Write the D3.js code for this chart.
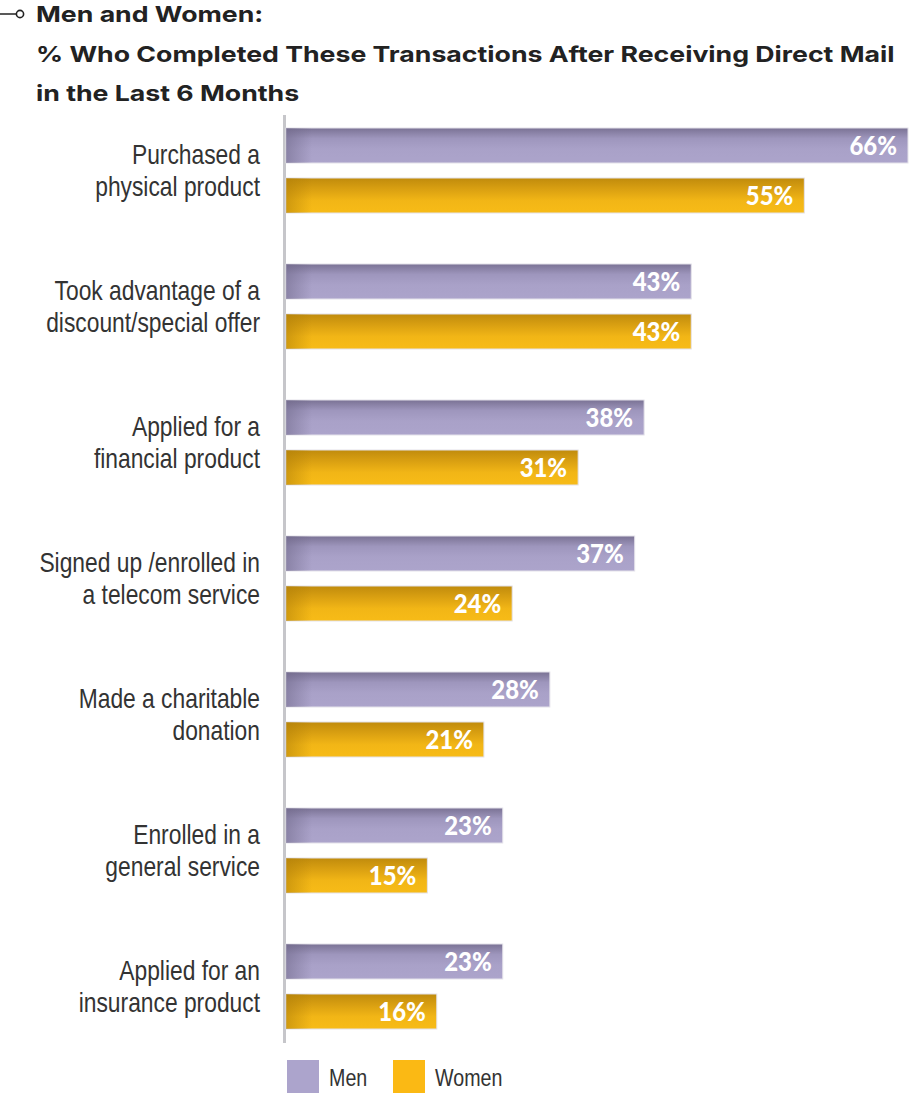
<!DOCTYPE html>
<html>
<head>
<meta charset="utf-8">
<script src="https://cdn.jsdelivr.net/npm/d3@7"></script>
<style>
  html, body { margin: 0; padding: 0; background: #fff; }
  svg { display: block; }
</style>
</head>
<body>
<svg id="chart" width="914" height="1093"></svg>
<script>
// Survey responses: share of men and women who completed each transaction
const categories = [
  ["Purchased a", "physical product"],
  ["Took advantage of a", "discount/special offer"],
  ["Applied for a", "financial product"],
  ["Signed up /enrolled in", "a telecom service"],
  ["Made a charitable", "donation"],
  ["Enrolled in a", "general service"],
  ["Applied for an", "insurance product"]
];
const seriesNames = ["Men", "Women"];
const menValues   = [66, 43, 38, 37, 28, 23, 23];
const womenValues = [55, 43, 31, 24, 21, 15, 16];
const titleLines = [
  "Men and Women:",
  "% Who Completed These Transactions After Receiving Direct Mail",
  "in the Last 6 Months"
];

const svg = d3.select("#chart");
const keys = categories.map(c => c.join(" "));
const rows = keys.map((k, i) => ({ key: k, lines: categories[i], Men: menValues[i], Women: womenValues[i] }));

// Scales
const x = d3.scaleLinear().domain([0, 66]).range([286, 908]);
const y = d3.scaleBand().domain(keys).range([128, 1029]).paddingInner(0.375).paddingOuter(0);
const ySub = d3.scaleBand().domain(seriesNames).range([0, y.bandwidth()]).paddingInner(0.3);

// Gradients: darker top edge and darker left edge on each bar
const defs = svg.append("defs");
const grads = {
  Men:   { stops: [["0%", "#7a7294"], ["30%", "#9e96bd"], ["60%", "#a9a1c8"], ["100%", "#aca4cb"]], edge: "#6f6889" },
  Women: { stops: [["0%", "#c08b0c"], ["35%", "#dca212"], ["65%", "#f2b616"], ["100%", "#f7bb17"]], edge: "#b07f08" }
};
Object.entries(grads).forEach(([name, g]) => {
  const lg = defs.append("linearGradient").attr("id", "v-" + name)
    .attr("x1", 0).attr("y1", 0).attr("x2", 0).attr("y2", 1);
  g.stops.forEach(s => lg.append("stop").attr("offset", s[0]).attr("stop-color", s[1]));
  const hg = defs.append("linearGradient").attr("id", "h-" + name)
    .attr("gradientUnits", "userSpaceOnUse").attr("x1", 286).attr("x2", 312).attr("y1", 0).attr("y2", 0);
  hg.append("stop").attr("offset", "0%").attr("stop-color", g.edge).attr("stop-opacity", 0.55);
  hg.append("stop").attr("offset", "100%").attr("stop-color", g.edge).attr("stop-opacity", 0);
});

// Title with small connector marker
svg.append("line").attr("x1", 0).attr("x2", 16).attr("y1", 14).attr("y2", 14)
  .attr("stroke", "#222").attr("stroke-width", 1.5);
svg.append("circle").attr("cx", 20).attr("cy", 14).attr("r", 3.6)
  .attr("fill", "#fff").attr("stroke", "#222").attr("stroke-width", 1.6);
const titleBase = [22, 62, 101];
const titleG = svg.append("g");
const titleText = titleG.selectAll("text").data(titleLines).join("text")
  .attr("x", 0).attr("y", (d, i) => titleBase[i])
  .attr("font-family", "Inter, 'Open Sans', sans-serif")
  .attr("font-weight", 700).attr("font-size", 22).attr("fill", "#222")
  .text(d => d);
// widen the title so the long line spans to the right edge
const titleW = titleText.nodes()[1].getComputedTextLength();
titleG.attr("transform", `translate(36,0) scale(${859 / titleW},1)`);

// Vertical baseline of the bars
svg.append("line").attr("x1", 284.5).attr("x2", 284.5).attr("y1", 115).attr("y2", 1043)
  .attr("stroke", "#c6c6ca").attr("stroke-width", 3);

// Bars
const groups = svg.append("g").selectAll("g").data(rows).join("g")
  .attr("transform", d => `translate(0,${y(d.key)})`);

const bars = groups.selectAll("g.bar")
  .data(d => seriesNames.map(s => ({ s, v: d[s] })))
  .join("g").attr("class", "bar");

bars.append("rect")
  .attr("x", x(0)).attr("y", d => ySub(d.s))
  .attr("width", d => x(d.v) - x(0)).attr("height", ySub.bandwidth())
  .attr("fill", d => `url(#v-${d.s})`)
  .attr("stroke", "#e4e2ea").attr("stroke-width", 1);
bars.append("rect")
  .attr("x", x(0)).attr("y", d => ySub(d.s))
  .attr("width", d => Math.min(26, x(d.v) - x(0))).attr("height", ySub.bandwidth())
  .attr("fill", d => `url(#h-${d.s})`);

bars.append("text")
  .attr("transform", d => `translate(${x(d.v) - 11},${ySub(d.s) + ySub.bandwidth() / 2 + 9}) scale(0.92,1)`)
  .attr("text-anchor", "end")
  .attr("font-family", "Lato, 'Open Sans', sans-serif")
  .attr("font-weight", 900).attr("font-size", 26).attr("fill", "#fff")
  .text(d => d.v + "%");

// Category labels, two lines centred on each pair of bars (condensed)
groups.append("text")
  .attr("transform", "translate(260,0) scale(0.845,1)")
  .attr("text-anchor", "end")
  .attr("font-family", "'Liberation Sans', Arial, sans-serif")
  .attr("font-size", 27).attr("fill", "#333")
  .selectAll("tspan").data(d => d.lines).join("tspan")
  .attr("x", 0)
  .attr("y", (d, i) => y.bandwidth() / 2 - 6 + i * 32)
  .text(d => d);

// Legend
const legendColors = { Men: "#aca4cc", Women: "#fbb914" };
const legendX = { Men: 287, Women: 393 };
const legend = svg.append("g").selectAll("g").data(seriesNames).join("g")
  .attr("transform", d => `translate(${legendX[d]},1060)`);
legend.append("rect").attr("width", 32).attr("height", 33)
  .attr("fill", d => legendColors[d]);
legend.append("text")
  .attr("transform", "translate(42,26) scale(0.82,1)")
  .attr("font-family", "'Liberation Sans', Arial, sans-serif")
  .attr("font-size", 24).attr("fill", "#333")
  .text(d => d);
</script>
</body>
</html>
